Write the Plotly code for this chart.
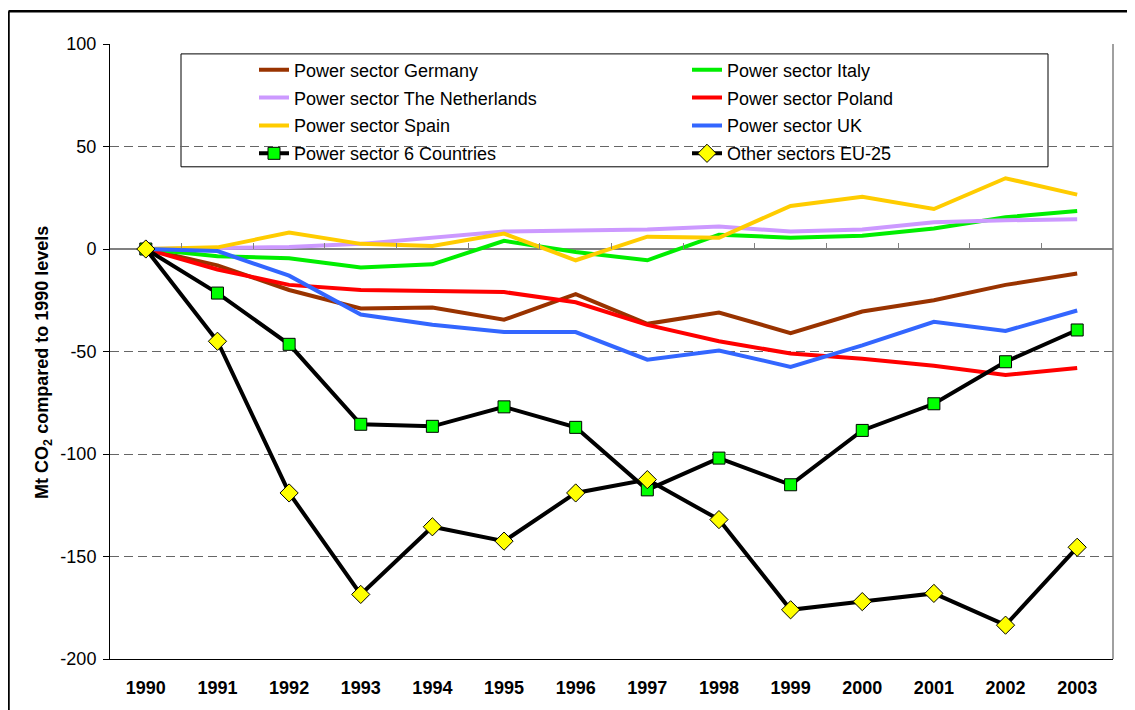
import plotly.graph_objects as go

years = [str(y) for y in range(1990, 2004)]

germany = [0, -8, -20, -29, -28.5, -34.5, -22, -36.5, -31, -41, -30.5, -25, -17.5, -12]
italy = [0, -3.5, -4.5, -9, -7.5, 4, -1.5, -5.5, 7, 5.5, 6.5, 10, 15.5, 18.5]
netherlands = [0, 0.3, 1, 2.5, 5.5, 8.5, 9, 9.5, 11, 8.5, 9.5, 13, 14, 14.5]
poland = [0, -10, -17.5, -20, -20.5, -21, -26, -37, -45, -51, -53.5, -57, -61.5, -58]
spain = [0, 0.8, 8, 2.5, 1.5, 7.5, -5.5, 6, 5.5, 21, 25.5, 19.5, 34.5, 26.5]
uk = [0, -1, -13, -32, -37, -40.5, -40.5, -54, -49.5, -57.5, -47, -35.5, -40, -30]
six_countries = [0, -21.5, -46.5, -85.5, -86.5, -77, -87, -117.5, -102, -115, -88.5, -75.5, -55, -39.5]
other_sectors = [0, -45, -119, -168.5, -135.5, -142.5, -119, -112.5, -132, -176, -172, -168, -183.5, -145.5]

y_tick_values = [100, 50, 0, -50, -100, -150, -200]
y_tick_labels = ["100", "50", "0", "-50", "-100", "-150", "-200"]

names = ["Power sector Germany", "Power sector Italy", "Power sector The Netherlands",
         "Power sector Poland", "Power sector Spain", "Power sector UK",
         "Power sector 6 Countries", "Other sectors EU-25"]

FONT = "Arial, Liberation Sans, sans-serif"

# page body has an 8px margin: figure is placed at (8, 8)
W, H = 1127, 702
ML, MR, MT, MB = 102, 22, 36, 45
PW = W - ML - MR   # plot width
PH = H - MT - MB   # plot height


def px(xp):  # page x -> paper x
    return (xp - 8 - ML) / PW


def py(yp):  # page y -> paper y
    return (H - MB - (yp - 8)) / PH


fig = go.Figure()

line_series = [
    (germany, "#993300", "legend"),
    (italy, "#00EE00", "legend2"),
    (netherlands, "#CC99FF", "legend"),
    (poland, "#FF0000", "legend2"),
    (spain, "#FFCC00", "legend"),
    (uk, "#3366FF", "legend2"),
]
for i, (vals, col, lg) in enumerate(line_series):
    fig.add_trace(go.Scatter(x=years, y=vals, name=names[i], mode="lines",
                             line=dict(color=col, width=4), legend=lg,
                             legendgroup=names[i]))

fig.add_trace(go.Scatter(x=years, y=six_countries, name=names[6], mode="lines+markers",
                         line=dict(color="black", width=4),
                         marker=dict(symbol="square", size=12, color="#00FF00",
                                     line=dict(color="black", width=1)),
                         legend="legend", legendgroup=names[6]))
fig.add_trace(go.Scatter(x=years, y=other_sectors, name=names[7], mode="lines+markers",
                         line=dict(color="black", width=4),
                         marker=dict(symbol="diamond", size=14, color="#FFFF00",
                                     line=dict(color="black", width=1)),
                         legend="legend2", legendgroup=names[7]))

# dummy trace to create the zero-line tick axis
fig.add_trace(go.Scatter(x=years, y=[None] * len(years), xaxis="x2", yaxis="y",
                         showlegend=False, hoverinfo="skip", mode="lines"))

legend_common = dict(
    font=dict(family=FONT, size=18, color="black"),
    bgcolor="rgba(0,0,0,0)", borderwidth=0,
    orientation="v", traceorder="grouped", tracegroupgap=1.5,
    xanchor="left", yanchor="top",
)

fig.update_layout(
    width=W, height=H,
    margin=dict(l=ML, r=MR, t=MT, b=MB),
    paper_bgcolor="white", plot_bgcolor="white",
    font=dict(family=FONT, color="black"),
    showlegend=True,
    legend=dict(x=px(249 + 5), y=py(51.5), **legend_common),
    legend2=dict(x=px(682 + 5), y=py(51.5), **legend_common),
    xaxis=dict(type="category", categoryorder="array", categoryarray=years,
               range=[-0.5, 13.5], showgrid=False, zeroline=False,
               showline=True, linecolor="black", linewidth=1, ticks="",
               tickfont=dict(family=FONT, size=18, color="black", weight="bold"),
               ticklabelstandoff=12),
    xaxis2=dict(type="category", categoryorder="array", categoryarray=years,
                overlaying="x", anchor="free", position=2 / 3, side="bottom",
                range=[-0.5, 13.5], showgrid=False, zeroline=False, showline=False,
                showticklabels=False, ticks="inside", tickson="boundaries",
                ticklen=6, tickwidth=1, tickcolor="#808080"),
    yaxis=dict(range=[-200, 100], tickmode="array",
               tickvals=y_tick_values, ticktext=y_tick_labels,
               showline=True, linecolor="black", linewidth=1,
               ticks="outside", ticklen=6, tickcolor="black", tickwidth=1,
               showgrid=True, gridcolor="#666666", gridwidth=1, griddash="9px,5px",
               zeroline=True, zerolinecolor="#808080", zerolinewidth=2,
               tickfont=dict(family=FONT, size=18, color="black"),
               ticklabelstandoff=3),
    annotations=[dict(
        text="Mt CO<sub>2</sub> compared to 1990 levels",
        xref="paper", yref="paper", x=px(44), y=py(366),
        xanchor="center", yanchor="middle", textangle=-90, showarrow=False,
        font=dict(family=FONT, size=18, color="black", weight="bold"))],
    shapes=[
        # legend box
        dict(type="rect", xref="paper", yref="paper",
             x0=px(181), x1=px(1048), y0=py(168), y1=py(54),
             line=dict(color="black", width=1), fillcolor="white", layer="between"),
        # right border of plot area
        dict(type="line", xref="paper", yref="paper", x0=1, x1=1, y0=0, y1=1,
             line=dict(color="#808080", width=1.5)),
        # outer chart frame (left and top)
        dict(type="line", xref="paper", yref="paper",
             x0=px(8.5), x1=px(8.5), y0=-0.2, y1=py(11),
             line=dict(color="black", width=2.5)),
        dict(type="line", xref="paper", yref="paper",
             x0=px(8.5), x1=1.1, y0=py(11), y1=py(11),
             line=dict(color="black", width=2.5)),
    ],
)

fig.write_html("out.html")
